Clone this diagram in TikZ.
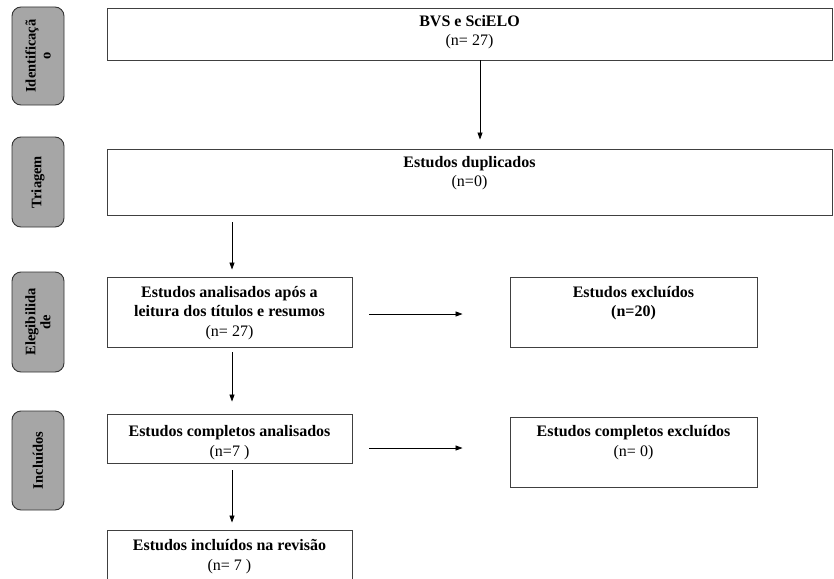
\documentclass[tikz,border=0pt]{standalone}
\usepackage{fontspec}
\setmainfont{Liberation Serif}
\usetikzlibrary{arrows.meta}
\begin{document}
\begin{tikzpicture}[x=1pt,y=-1pt,
  box/.style={draw=black!75, line width=0.9pt, inner sep=0pt},
  side/.style={draw=black!80, fill=black!35, line width=0.9pt, rounded corners=9pt, inner sep=0pt, minimum width=52pt},
  sidetxt/.style={rotate=90, align=center, font=\fontsize{14.5}{15}\selectfont\bfseries},
  txt/.style={align=center, inner sep=0pt, font=\fontsize{16}{19.5}\selectfont},
  arr/.style={-{Triangle[length=7pt,width=5pt]}, line width=0.8pt, black}]
\useasboundingbox (0,0) rectangle (834,578);
% side labels
\node[side, minimum height=98pt] (s1) at (38,56) {};
\node[sidetxt] (s1t) at (s1) {Identificaçã\\o};
\node[side, minimum height=90pt] (s2) at (38,182) {};
\node[sidetxt] (s2t) at (s2) {Triagem};
\node[side, minimum height=100pt] (s3) at (38,322) {};
\node[sidetxt] (s3t) at (s3) {Elegibilida\\de};
\node[side, minimum height=99pt] (s4) at (38,460.5) {};
\node[sidetxt] (s4t) at (s4) {Incluídos};
% boxes
\node[box, minimum width=725pt, minimum height=52pt] (bvs) at (469.5,34) {};
\node[txt] (bvst) at (469.5,32) {\textbf{BVS e SciELO}\\(n= 27)};
\node[box, minimum width=725pt, minimum height=66pt] (dup) at (469.5,182) {};
\node[txt] (dupt) at (469.5,173) {\textbf{Estudos duplicados}\\(n=0)};
\node[box, minimum width=245pt, minimum height=70pt] (ana) at (229.5,312) {};
\node[txt] (anat) at (229.5,313) {\textbf{Estudos analisados após a}\\\textbf{leitura dos títulos e resumos}\\(n= 27)};
\node[box, minimum width=247pt, minimum height=70pt] (exc) at (633.5,312) {};
\node[txt] (exct) at (633.5,303) {\textbf{Estudos excluídos}\\\textbf{(n=20)}};
\node[box, minimum width=245pt, minimum height=49pt] (compa) at (229.5,438.5) {};
\node[txt] (compat) at (229.5,442.5) {\textbf{Estudos completos analisados}\\(n=7 )};
\node[box, minimum width=247pt, minimum height=70pt] (compe) at (633.5,452) {};
\node[txt] (compet) at (633.5,442.5) {\textbf{Estudos completos excluídos}\\(n= 0)};
\node[box, minimum width=245pt, minimum height=64pt] (rev) at (229.5,562) {};
\node[txt] (revt) at (229.5,556.5) {\textbf{Estudos incluídos na revisão}\\(n= 7 )};
% arrows
\draw[arr, shorten >=9pt] ([xshift=10.5pt]bvs.south) -- ([xshift=10.5pt]bvs.south |- dup.north);
\draw[arr, shorten <=7pt, shorten >=7pt] ([xshift=2.5pt]ana.north |- dup.south) -- ([xshift=2.5pt]ana.north);
\draw[arr, shorten <=5pt, shorten >=12pt] ([xshift=2.5pt]ana.south) -- ([xshift=2.5pt]compa.north);
\draw[arr, shorten <=7pt, shorten >=7pt] ([xshift=2.5pt]compa.south) -- ([xshift=2.5pt]rev.north);
\draw[arr, shorten <=17pt, shorten >=47pt] ([yshift=-2pt]ana.east) -- ([yshift=-2pt]exc.west);
\draw[arr, shorten <=17pt, shorten >=47pt] ([yshift=-9.5pt]compa.east) -- ([yshift=-9.5pt]compa.east -| compe.west);
\end{tikzpicture}
\end{document}
